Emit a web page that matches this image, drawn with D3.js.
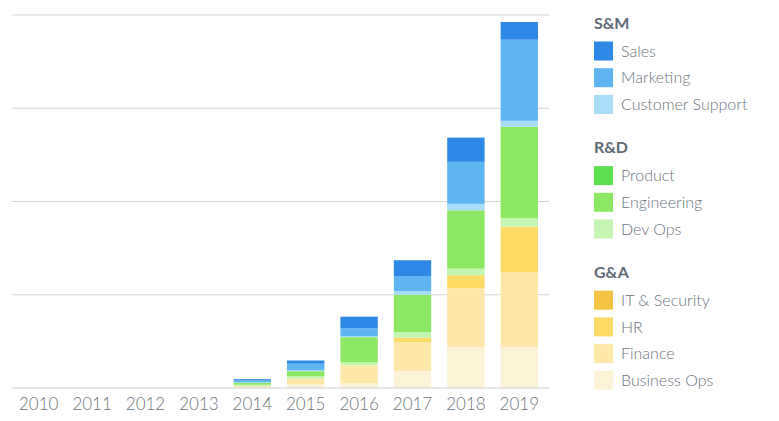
<!DOCTYPE html>
<html>
<head>
<meta charset="utf-8">
<script src="https://cdn.jsdelivr.net/npm/d3@7"></script>
<style>
  html, body { margin: 0; padding: 0; background: #fff; }
  svg { display: block; font-family: Lato, "Open Sans", sans-serif; }
</style>
</head>
<body>
<svg id="chart" width="779" height="421"></svg>
<script>
// ---- data ----
const years = ["2010","2011","2012","2013","2014","2015","2016","2017","2018","2019"];
const yTicks = [0, 100, 200, 300, 400];

const sales           = [0, 0, 0, 0, 1.5, 3.5, 12.5, 17, 26, 19];
const marketing       = [0, 0, 0, 0, 2,   7,   8.5,  16, 45, 87];
const customerSupport = [0, 0, 0, 0, 0.5, 1,   1,    4,  7,  6.5];
const product         = [0, 0, 0, 0, 0,   0,   0,    0,  0,  0];
const engineering     = [0, 0, 0, 0, 2,   5.5, 27,   40, 62.5, 98];
const devOps          = [0, 0, 0, 0, 1.5, 2.5, 3,    6,  7,  9];
const itSecurity      = [0, 0, 0, 0, 0,   0,   0,    0,  0,  0];
const hr              = [0, 0, 0, 0, 0,   0,   0,    5,  14, 49];
const finance         = [0, 0, 0, 0, 1,   6,   19.5, 31, 63, 80];
const businessOps     = [0, 0, 0, 0, 1,   4,   5,    18, 44, 44];

const groups = [
  { name: "S&M", items: ["Sales", "Marketing", "Customer Support"] },
  { name: "R&D", items: ["Product", "Engineering", "Dev Ops"] },
  { name: "G&A", items: ["IT & Security", "HR", "Finance", "Business Ops"] }
];

// ---- series table (bottom to top) ----
const seriesDefs = [
  { key: "Business Ops",     values: businessOps,     color: "#fdf3d6" },
  { key: "Finance",          values: finance,         color: "#fde8a9" },
  { key: "HR",               values: hr,              color: "#fcda66" },
  { key: "IT & Security",    values: itSecurity,      color: "#f6c445" },
  { key: "Dev Ops",          values: devOps,          color: "#c5f5b2" },
  { key: "Engineering",      values: engineering,     color: "#8ce862" },
  { key: "Product",          values: product,         color: "#5de04f" },
  { key: "Customer Support", values: customerSupport, color: "#a9dcf7" },
  { key: "Marketing",        values: marketing,       color: "#5fb5f1" },
  { key: "Sales",            values: sales,           color: "#2d89e5" }
];
const colorOf = Object.fromEntries(seriesDefs.map(d => [d.key, d.color]));

const table = years.map((y, i) => {
  const row = { year: y };
  seriesDefs.forEach(s => row[s.key] = s.values[i]);
  return row;
});

const svg = d3.select("#chart");

const x = d3.scaleBand().domain(years).range([12, 546]).paddingInner(0.3).paddingOuter(0.15);
const y = d3.scaleLinear().domain([0, 400]).range([388, 15]);

// gridlines
svg.append("g")
  .selectAll("line")
  .data(yTicks.filter(t => t > 0))
  .join("line")
  .attr("x1", 12).attr("x2", 549)
  .attr("y1", d => y(d)).attr("y2", d => y(d))
  .attr("stroke", "#d6d6d6").attr("stroke-width", 1.2);

// bars
const stack = d3.stack().keys(seriesDefs.map(d => d.key));
const layers = stack(table);

svg.append("g")
  .selectAll("g")
  .data(layers)
  .join("g")
  .attr("fill", d => colorOf[d.key])
  .selectAll("rect")
  .data(d => d)
  .join("rect")
  .attr("x", d => x(d.data.year))
  .attr("width", x.bandwidth())
  .attr("y", d => y(d[1]))
  .attr("height", d => Math.max(0, y(d[0]) - y(d[1])));

// baseline
svg.append("line")
  .attr("x1", 12).attr("x2", 549)
  .attr("y1", y(0)).attr("y2", y(0))
  .attr("stroke", "#cfcfcf").attr("stroke-width", 1.2);

// x axis
const xAxis = svg.append("g")
  .attr("transform", `translate(0,${y(0)})`)
  .call(d3.axisBottom(x).tickSize(0).tickPadding(10));
xAxis.select(".domain").remove();
xAxis.selectAll("text")
  .attr("font-family", "Lato, sans-serif")
  .attr("font-weight", 300)
  .attr("font-size", 17)
  .attr("fill", "#6e757c");

// legend
const lg = svg.append("g").attr("transform", "translate(594,0)");
let cy = 23;
groups.forEach((g, gi) => {
  lg.append("text")
    .attr("x", 0).attr("y", cy)
    .attr("dy", "0.35em")
    .attr("font-weight", 700)
    .attr("font-size", 16)
    .attr("fill", "#5f6a75")
    .text(g.name);
  cy += 28;
  g.items.forEach(it => {
    lg.append("rect")
      .attr("x", 0).attr("y", cy - 9.5)
      .attr("width", 19).attr("height", 19)
      .attr("fill", colorOf[it]);
    lg.append("text")
      .attr("x", 27).attr("y", cy)
      .attr("dy", "0.35em")
      .attr("font-size", 16)
      .attr("font-weight", 300)
      .attr("fill", "#6b7580")
      .text(it);
    cy += 26.7;
  });
  cy += 16.5;
});
</script>
</body>
</html>
